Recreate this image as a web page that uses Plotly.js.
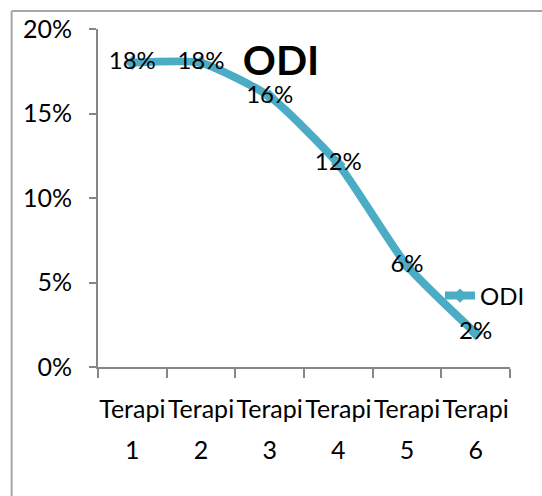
<!DOCTYPE html>
<html>
<head>
<meta charset="utf-8">
<script src="https://cdn.plot.ly/plotly-3.0.1.min.js"></script>
<style>html,body{margin:0;padding:0;background:#fff;}#chart{width:542px;height:496px;}</style>
</head>
<body>
<div id="chart"></div>
<script>
var categories = ['Terapi 1', 'Terapi 2', 'Terapi 3', 'Terapi 4', 'Terapi 5', 'Terapi 6'];
var odiValues = [0.18, 0.18, 0.16, 0.12, 0.06, 0.02];
var seriesName = 'ODI';
var chartTitle = 'ODI';
var yTickValues = [0, 0.05, 0.10, 0.15, 0.20];

var wordLabels = categories.map(function (c) { return c.split(' ')[0]; });
var numberLabels = categories.map(function (c) { return c.split(' ')[1]; });
var idx = categories.map(function (c, i) { return i; });

var FONT = 'Lato, Liberation Sans, sans-serif';
var LINE_COLOR = '#4BACC6';
var AXIS_COLOR = '#868686';

var trace = {
  type: 'scatter',
  x: categories,
  y: odiValues,
  name: seriesName,
  mode: 'lines+markers+text',
  line: {color: LINE_COLOR, width: 8, shape: 'spline', smoothing: 0.55},
  marker: {symbol: 'diamond', size: 11, color: LINE_COLOR},
  text: odiValues.map(function (v) { return Math.round(v * 100) + '%'; }),
  textposition: 'middle center',
  textfont: {family: FONT, size: 24, color: '#000'},
  cliponaxis: false,
  hoverinfo: 'x+y'
};

var layout = {
  width: 542,
  height: 496,
  margin: {l: 98, r: 29, t: 29, b: 129, pad: 0},
  paper_bgcolor: '#fff',
  plot_bgcolor: '#fff',
  font: {family: FONT, color: '#000', size: 24},
  title: {
    text: '<b>' + chartTitle + '</b>',
    font: {family: FONT, size: 41, color: '#000'},
    xref: 'container', yref: 'container',
    x: 281 / 542, xanchor: 'center',
    y: 1 - 61 / 496, yanchor: 'middle'
  },
  showlegend: true,
  legend: {
    x: 0.83, y: 0.21, xanchor: 'left', yanchor: 'middle',
    bgcolor: 'rgba(0,0,0,0)',
    font: {family: FONT, size: 24, color: '#000'},
    itemwidth: 30
  },
  xaxis: {
    type: 'category',
    tickmode: 'array',
    tickvals: categories,
    ticktext: wordLabels,
    tickangle: 0,
    range: [-0.5, categories.length - 0.5],
    showline: true, linecolor: AXIS_COLOR, linewidth: 2,
    ticks: 'outside', tickson: 'boundaries', ticklen: 9, tickwidth: 2, tickcolor: AXIS_COLOR,
    showgrid: false, zeroline: false,
    ticklabelstandoff: 19,
    tickfont: {family: FONT, size: 25, color: '#000'},
    fixedrange: true
  },
  xaxis2: {
    type: 'linear',
    overlaying: 'x',
    anchor: 'y',
    side: 'bottom',
    range: [-0.5, categories.length - 0.5],
    tickmode: 'array',
    tickvals: idx,
    ticktext: numberLabels,
    tickangle: 0,
    showline: false, ticks: '', showgrid: false, zeroline: false,
    ticklabelstandoff: 66,
    tickfont: {family: FONT, size: 25, color: '#000'},
    fixedrange: true
  },
  yaxis: {
    range: [0, 0.2],
    tickmode: 'array',
    tickvals: yTickValues,
    tickformat: '.0%',
    showline: true, linecolor: AXIS_COLOR, linewidth: 2,
    ticks: 'outside', ticklen: 7, tickwidth: 2, tickcolor: AXIS_COLOR,
    showgrid: false, zeroline: false,
    ticklabelstandoff: 12,
    tickfont: {family: FONT, size: 25, color: '#000'},
    fixedrange: true
  },
  shapes: [
    {type: 'line', xref: 'paper', yref: 'paper', x0: (11 - 98) / 415, x1: (11 - 98) / 415, y0: (367 - 11) / 338, y1: (367 - 510) / 338, line: {color: '#A6A6A6', width: 2}},
    {type: 'line', xref: 'paper', yref: 'paper', x0: (11 - 98) / 415, x1: (560 - 98) / 415, y0: (367 - 11) / 338, y1: (367 - 11) / 338, line: {color: '#A6A6A6', width: 2}}
  ]
};

var dummy = {type: 'scatter', x: [], y: [], xaxis: 'x2', yaxis: 'y', showlegend: false, hoverinfo: 'skip'};

Plotly.newPlot('chart', [trace, dummy], layout, {displayModeBar: false, staticPlot: true});
</script>
</body>
</html>
